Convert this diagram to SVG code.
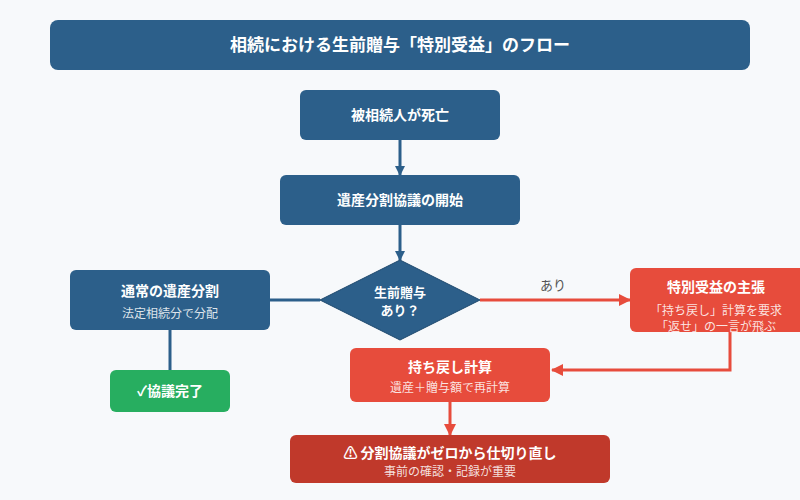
<svg xmlns="http://www.w3.org/2000/svg" width="800" height="500" viewBox="0 0 800 500">
<style>
text{font-family:"Noto Sans CJK JP","Noto Sans",sans-serif;text-anchor:middle}
.t{fill:#fff;font-weight:bold;font-size:14px}
.s{fill:#fff;fill-opacity:.85;font-size:12px}
.b{fill:#2c5f8a}
.r{fill:#e74c3c}
.ln{fill:none;stroke-width:3}
</style>
<defs>
<marker id="ab" markerWidth="10" markerHeight="10" refX="9" refY="5" orient="auto" markerUnits="userSpaceOnUse"><path d="M0,0 L10,5 L0,10 z" fill="#2c5f8a"/></marker>
<marker id="ar" markerWidth="12" markerHeight="12" refX="11" refY="6" orient="auto" markerUnits="userSpaceOnUse"><path d="M0,0 L12,6 L0,12 z" fill="#e74c3c"/></marker>
</defs>
<rect width="800" height="500" fill="#f7f9fb"/>
<g id="title"><rect x="50" y="20" width="700" height="50" rx="8" class="b"/><text x="400" y="51" class="t" style="font-size:17px">相続における生前贈与「特別受益」のフロー</text></g>
<g id="connectors">
<path d="M400,140 V175" class="ln" stroke="#2c5f8a" marker-end="url(#ab)"/>
<path d="M400,225 V260" class="ln" stroke="#2c5f8a" marker-end="url(#ab)"/>
<path d="M270,300 H320" class="ln" stroke="#2c5f8a"/>
<path d="M170,330 V370" class="ln" stroke="#2c5f8a"/>
<path d="M480,300 H630" class="ln" stroke="#e74c3c" marker-end="url(#ar)"/>
<text x="553" y="290" style="font-size:13px;fill:#555">あり</text>
<path d="M730,332 V370 H552" class="ln" stroke="#e74c3c" marker-end="url(#ar)"/>
<path d="M450,402 V435" class="ln" stroke="#e74c3c" marker-end="url(#ar)"/>
</g>
<g id="n1"><rect x="300" y="90" width="200" height="50" rx="6" class="b"/><text x="400" y="120" class="t">被相続人が死亡</text></g>
<g id="n2"><rect x="280" y="175" width="240" height="50" rx="6" class="b"/><text x="400" y="205" class="t">遺産分割協議の開始</text></g>
<g id="d"><polygon points="400,260 480,300 400,340 320,300" class="b" stroke="#1f4a6e" stroke-width="1"/><text x="400" y="297" class="t" style="font-size:13px">生前贈与</text><text x="400" y="315" class="t" style="font-size:13px">あり？</text></g>
<g id="nl"><rect x="70" y="270" width="200" height="60" rx="6" class="b"/><text x="170" y="296" class="t">通常の遺産分割</text><text x="170" y="318" class="s">法定相続分で分配</text></g>
<g id="ng"><rect x="110" y="370" width="120" height="42" rx="6" fill="#27ae60"/><text x="170" y="396" class="t">✓協議完了</text></g>
<g id="nr"><rect x="630" y="268" width="180" height="64" rx="6" class="r"/><text x="716" y="292" class="t">特別受益の主張</text><text x="716" y="315" class="s">「持ち戻し」計算を要求</text><text x="716" y="331" class="s">「返せ」の一言が飛ぶ</text></g>
<g id="nc"><rect x="350" y="348" width="200" height="54" rx="6" class="r"/><text x="450" y="372" class="t">持ち戻し計算</text><text x="450" y="392" class="s">遺産＋贈与額で再計算</text></g>
<g id="nd"><rect x="290" y="435" width="320" height="48" rx="6" fill="#c0392b"/><text x="450" y="458" class="t">⚠ 分割協議がゼロから仕切り直し</text><text x="450" y="476" class="s">事前の確認・記録が重要</text></g>
</svg>
